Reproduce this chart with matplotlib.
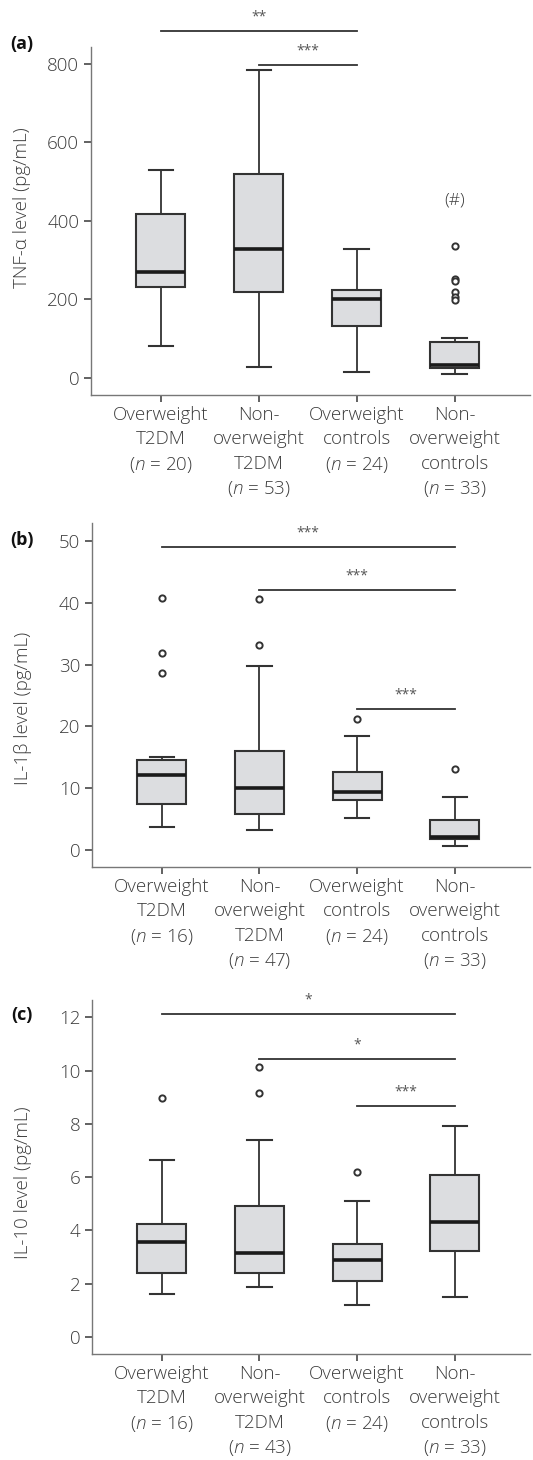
import numpy as np
import matplotlib
matplotlib.use("Agg")
import matplotlib.pyplot as plt

plt.rcParams['font.family'] = ['Open Sans', 'DejaVu Sans']
plt.rcParams['mathtext.fontset'] = 'custom'
plt.rcParams['mathtext.it'] = 'Open Sans:italic:light'
plt.rcParams['mathtext.rm'] = 'Open Sans:light'

# group names and sample sizes per panel
groups = ["Overweight\nT2DM", "Non-\noverweight\nT2DM", "Overweight\ncontrols", "Non-\noverweight\ncontrols"]
n_a = [20, 53, 24, 33]
n_b = [16, 47, 24, 33]
n_c = [16, 43, 24, 33]

# (a) TNF-alpha
a_whislo = [82, 28, 15, 11]
a_q1 = [232, 220, 133, 25]
a_med = [270, 329, 201, 33]
a_q3 = [418, 520, 224, 92]
a_whishi = [530, 785, 329, 102]
a_fliers = [[], [], [], [337, 252, 248, 218, 206, 198]]

# (b) IL-1beta
b_whislo = [3.7, 3.2, 5.2, 0.6]
b_q1 = [7.4, 5.8, 8.1, 1.7]
b_med = [12.1, 10.0, 9.4, 2.1]
b_q3 = [14.6, 16.0, 12.6, 4.8]
b_whishi = [15.0, 29.8, 18.4, 8.6]
b_fliers = [[40.8, 31.9, 28.6], [40.6, 33.2], [21.2], [13.1]]

# (c) IL-10
c_whislo = [1.61, 1.88, 1.20, 1.50]
c_q1 = [2.40, 2.40, 2.10, 3.23]
c_med = [3.56, 3.15, 2.89, 4.31]
c_q3 = [4.24, 4.92, 3.49, 6.08]
c_whishi = [6.64, 7.39, 5.10, 7.92]
c_fliers = [[8.97], [10.13, 9.16], [6.19], []]

# significance brackets: (group from, group to, y, stars)
sig_a = [(1, 3, 884, "**"), (2, 3, 797, "***")]
sig_b = [(1, 4, 49.0, "***"), (2, 4, 42.1, "***"), (3, 4, 22.8, "***")]
sig_c = [(1, 4, 12.12, "*"), (2, 4, 10.43, "*"), (3, 4, 8.67, "***")]

fig = plt.figure(figsize=(5.33, 14.6), dpi=100)

panels = [
    dict(rect=[0.1707, 0.7295, 0.8236, 0.2384], lo=a_whislo, q1=a_q1, med=a_med, q3=a_q3, hi=a_whishi,
         fl=a_fliers, n=n_a, ylim=(-43, 843), ticks=[0, 200, 400, 600, 800], sig=sig_a,
         ylabel="TNF-α level (pg/mL)", tag="(a)", laby=0.537, tagy=44),
    dict(rect=[0.1726, 0.4062, 0.8218, 0.2356], lo=b_whislo, q1=b_q1, med=b_med, q3=b_q3, hi=b_whishi,
         fl=b_fliers, n=n_b, ylim=(-2.75, 52.9), ticks=[0, 10, 20, 30, 40, 50], sig=sig_b,
         ylabel="IL-1β level (pg/mL)", tag="(b)", laby=0.462, tagy=540),
    dict(rect=[0.1726, 0.0726, 0.8218, 0.2425], lo=c_whislo, q1=c_q1, med=c_med, q3=c_q3, hi=c_whishi,
         fl=c_fliers, n=n_c, ylim=(-0.64, 12.65), ticks=[0, 2, 4, 6, 8, 10, 12], sig=sig_c,
         ylabel="IL-10 level (pg/mL)", tag="(c)", laby=0.483, tagy=1015),
]

txt_col = '#3c3c3c'
edge = '#333333'

for p in panels:
    ax = fig.add_axes(p['rect'])
    stats = []
    for i in range(4):
        stats.append(dict(whislo=p['lo'][i], q1=p['q1'][i], med=p['med'][i], q3=p['q3'][i],
                          whishi=p['hi'][i], fliers=p['fl'][i]))
    ax.bxp(stats, positions=[1, 2, 3, 4], widths=0.5, patch_artist=True,
           boxprops=dict(facecolor='#dcdde0', edgecolor=edge, linewidth=1.5),
           medianprops=dict(color='#1a1a1a', linewidth=2.6),
           whiskerprops=dict(color=edge, linewidth=1.3),
           capprops=dict(color=edge, linewidth=1.5), capwidths=0.25,
           flierprops=dict(marker='o', markersize=4.5, markerfacecolor='white',
                           markeredgecolor=edge, markeredgewidth=1.4))
    ax.set_xlim(0.286, 4.77)
    ax.set_ylim(*p['ylim'])
    ax.set_yticks(p['ticks'])
    ax.set_xticks([1, 2, 3, 4])
    labels = [g + "\n(" + r"$\it{n}$" + " = %d)" % n for g, n in zip(groups, p['n'])]
    ax.set_xticklabels(labels, linespacing=1.45)
    for lab in ax.get_xticklabels() + ax.get_yticklabels():
        lab.set_fontweight('light')
    for s in ['top', 'right']:
        ax.spines[s].set_visible(False)
    for s in ['left', 'bottom']:
        ax.spines[s].set_color('#777777')
        ax.spines[s].set_linewidth(1.0)
    ax.tick_params(axis='both', colors='#555555', labelcolor=txt_col, labelsize=13.5, length=5, width=1.3)
    ax.tick_params(axis='x', pad=3)
    ax.set_ylabel(p['ylabel'], fontsize=13.5, color=txt_col, fontweight='light')
    ax.yaxis.set_label_coords(-0.137, p['laby'])

    for g1, g2, y, stars in p['sig']:
        ax.plot([g1, g2], [y, y], color='#333333', linewidth=1.3, clip_on=False)
        ax.annotate(stars, xy=((g1 + g2) / 2, y), xytext=(0, 14), textcoords='offset pixels',
                    ha='center', va='center', fontsize=10, color='#555555', annotation_clip=False)

    fig.text(22 / 533, 1 - p['tagy'] / 1460, p['tag'], fontsize=13, fontweight='bold',
             ha='center', va='center', color='#111111')

    if p['tag'] == "(a)":
        ax.text(4, 453, "(#)", ha='center', va='center', fontsize=12.5, color=txt_col,
                fontweight='light')

fig.savefig("out.png", dpi=100)
